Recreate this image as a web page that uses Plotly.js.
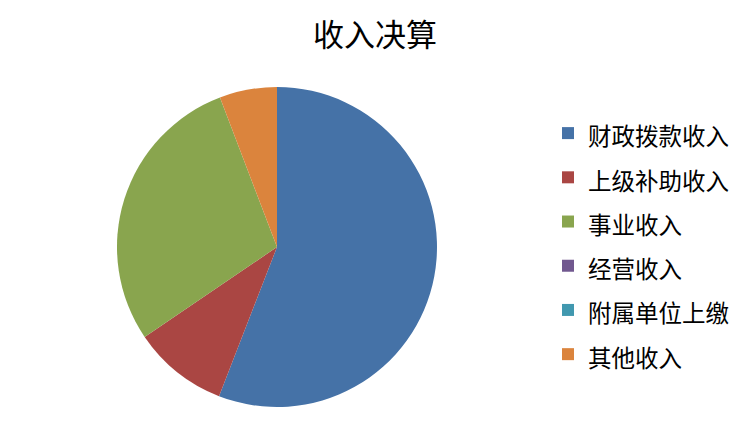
<!DOCTYPE html>
<html>
<head>
<meta charset="utf-8">
<script src="https://cdn.plot.ly/plotly-3.0.1.min.js"></script>
<style>html,body{margin:0;padding:0;background:#fff;}#chart{width:750px;height:428px;}</style>
</head>
<body>
<div id="chart"></div>
<script>
var categories = ["财政拨款收入", "上级补助收入", "事业收入", "经营收入", "附属单位上缴", "其他收入"];
var values = [55.9, 9.6, 28.7, 0, 0, 5.8];
var colors = ["#4572A7", "#AA4643", "#89A54E", "#71588F", "#4198AF", "#DB843D"];
var chartTitle = "收入决算";

var FONT = "'Noto Sans CJK SC', 'Noto Sans', sans-serif";
var legendLabels = categories.map(function (c) { return '<span style="font-size:23.5px">' + c + '</span>'; });

var trace = {
  type: 'pie',
  labels: legendLabels,
  values: values,
  sort: false,
  direction: 'clockwise',
  rotation: 0,
  textinfo: 'none',
  hoverinfo: 'label+percent',
  marker: { colors: colors, line: { width: 0 } },
  domain: { x: [117 / 750, 437 / 750], y: [21 / 428, 341 / 428] }
};

var layout = {
  width: 750,
  height: 428,
  margin: { l: 0, r: 0, t: 0, b: 0 },
  paper_bgcolor: '#ffffff',
  plot_bgcolor: '#ffffff',
  font: { family: FONT, color: '#000000' },
  title: {
    text: chartTitle,
    font: { family: FONT, size: 31, color: '#000000' },
    x: 0.5, xref: 'container', xanchor: 'center',
    y: 1 - 35 / 428, yref: 'container', yanchor: 'middle'
  },
  showlegend: true,
  legend: {
    x: 548 / 750, xanchor: 'left',
    y: 1 - 106 / 428, yanchor: 'top',
    font: { family: FONT, size: 31.7, color: '#000000' },
    bgcolor: 'rgba(0,0,0,0)',
    borderwidth: 0
  }
};

Plotly.newPlot('chart', [trace], layout, { displayModeBar: false, staticPlot: true });
</script>
</body>
</html>
